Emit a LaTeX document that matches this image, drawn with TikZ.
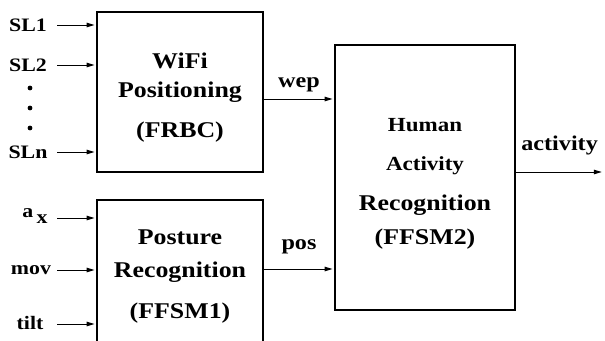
\documentclass[tikz,border=0pt]{standalone}
\usepackage{fontspec}
\setmainfont[FakeStretch=1.15]{Liberation Serif}
\usetikzlibrary{arrows.meta}

\begin{document}
\begin{tikzpicture}[x=1pt,y=-1pt,
		block/.style={draw,line width=2.5pt,rectangle,align=center,inner sep=0pt,font=\fontsize{22.5}{33}\selectfont\bfseries},
		sig/.style={-{Triangle[length=8pt,width=4.5pt]},line width=1pt,shorten >=1.2pt},
		lbl/.style={font=\fontsize{19}{21}\selectfont\bfseries,inner sep=2pt},
		outlbl/.style={font=\fontsize{21}{23}\selectfont\bfseries,inner sep=2pt}]
		\clip (0,0) rectangle (605,340);
		\node[block,minimum width=166pt,minimum height=160pt,font=\fontsize{22.5}{29}\selectfont\bfseries] (wifi) at (180,92) {\rule{0pt}{26pt}WiFi\\Positioning\\[11pt](FRBC)};
		\node[block,minimum width=166pt,minimum height=153pt] (posture) at (180,276.5) {Posture\\Recognition\\[8pt](FFSM1)};
		\node[block,minimum width=180pt,minimum height=265pt,font=\fontsize{22.5}{34}\selectfont\bfseries] (har) at (425,177.5) {\rule{0pt}{26.5pt}{\fontsize{20}{34}\selectfont Human}\\[4.3pt]{\fontsize{20}{34}\selectfont Activity}\\[6.5pt]Recognition\\(FFSM2)};
		\node[lbl] (sl1) at (28,25) {SL1};
		\node[lbl] (sl2) at (28,65) {SL2};
		\node[lbl] (sln) at (28,152) {SLn};
		\node[lbl,anchor=base] (ax) at (35,217) {a\,\raisebox{-6pt}{x}};
		\node[lbl] (mov) at (31,270) {mov};
		\node[lbl] (tilt) at (30,323) {tilt};
		\foreach \y in {88,108,128}
			\fill (30,\y) circle (2.4pt);
		\coordinate (sl1in) at (57,25);
		\coordinate (sl2in) at (57,65);
		\coordinate (slnin) at (57,152);
		\coordinate (axin) at (57,218);
		\coordinate (movin) at (57,270);
		\coordinate (tiltin) at (57,324);
		\coordinate (actout) at (603,172);
		\foreach \n in {sl1in,sl2in,slnin}
			\draw[sig] (\n) -- (\n -| wifi.west);
		\foreach \n in {axin,movin,tiltin}
			\draw[sig] (\n) -- (\n -| posture.west);
		\draw[sig] ([yshift=-7pt]wifi.east) -- node[outlbl,midway,above=5pt] (wep) {wep} ([yshift=-7pt]wifi.east -| har.west);
		\draw[sig] ([yshift=7.5pt]posture.east) -- node[outlbl,midway,above=13pt] (pos) {pos} ([yshift=7.5pt]posture.east -| har.west);
		\draw[sig] ([yshift=5.5pt]har.east) -- node[outlbl,midway,above=14pt] (act) {activity} (actout);
	\end{tikzpicture}
\end{document}
